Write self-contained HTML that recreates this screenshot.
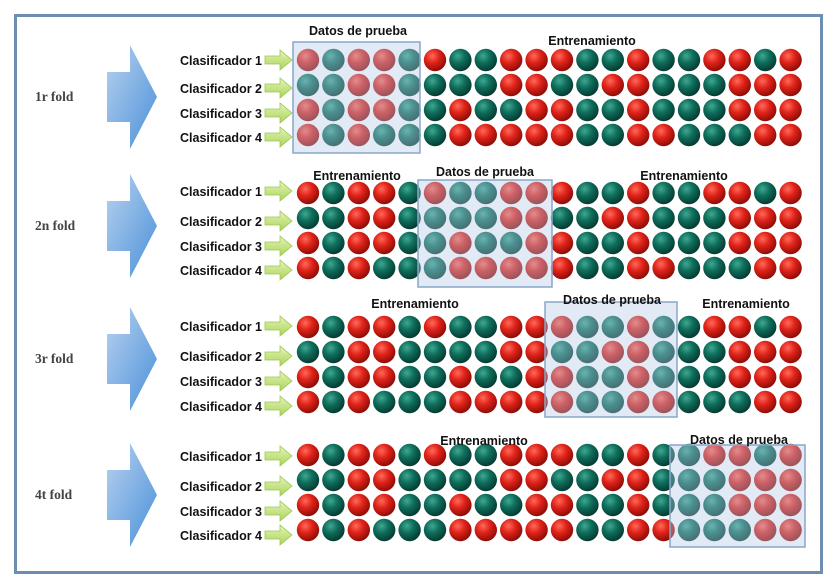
<!DOCTYPE html>
<html><head><meta charset="utf-8"><style>
html,body{margin:0;padding:0;background:#fff;}
svg{display:block;}
text{font-family:"Liberation Sans",sans-serif;}
text.fold{font-family:"Liberation Serif",serif;}
</style></head><body>
<svg id="c" width="839" height="588" viewBox="0 0 839 588" xmlns="http://www.w3.org/2000/svg">
<defs>
<radialGradient id="gr" cx="0.38" cy="0.32" r="0.7"><stop offset="0" stop-color="#ff6a5a"/><stop offset="0.45" stop-color="#e0231a"/><stop offset="1" stop-color="#8c0c06"/></radialGradient>
<radialGradient id="gg" cx="0.38" cy="0.32" r="0.7"><stop offset="0" stop-color="#3fa890"/><stop offset="0.45" stop-color="#0f6e5c"/><stop offset="1" stop-color="#053a30"/></radialGradient>
<linearGradient id="ba" x1="0" y1="0" x2="1" y2="1"><stop offset="0" stop-color="#b8d2ef"/><stop offset="1" stop-color="#4a90d9"/></linearGradient>
<linearGradient id="ga" x1="0" y1="0" x2="0" y2="1"><stop offset="0" stop-color="#e6f5b8"/><stop offset="1" stop-color="#a9d35a"/></linearGradient>
</defs>
<rect x="15.5" y="15.5" width="806" height="557" fill="#fff" stroke="#6d8db2" stroke-width="3"/>
</svg>
<script>
const foldLabels = ["1r fold","2n fold","3r fold","4t fold"];
const rowPatterns = [
 "RGRRGRGGRRRGGRGGRRGR",
 "GGRRGGGGRRGGRRGGGRRR",
 "RGRRGGRGGRRGGRGGGRRR",
 "RGRGGGRRRRRGGRRGGGRR"
];
const testStart = [0,5,10,15];
const rowY = [[60,85,110,135],[193,218,243,268],[327,352,377,402],[455,480,505,530]];
const clfY = [[60,88,113,137],[191,221,246,270],[326,356,381,406],[456,486,511,535]];
const foldY = [97,226,359,495];
const svg = document.getElementById('c');
const NS = "http://www.w3.org/2000/svg";
function el(t, a){const e=document.createElementNS(NS,t);for(const k in a)e.setAttribute(k,a[k]);svg.appendChild(e);return e;}
const xOf = i => 308 + i*25.4;
const boxes = [[293,42,127,111],[418,180,134,107],[545,302,132,115],[670,445,135,102]];
const labels = [
 [[358,31,"Datos de prueba"],[592,41,"Entrenamiento"]],
 [[357,176,"Entrenamiento"],[485,172,"Datos de prueba"],[684,176,"Entrenamiento"]],
 [[415,304,"Entrenamiento"],[612,300,"Datos de prueba"],[746,304,"Entrenamiento"]],
 [[484,441,"Entrenamiento"],[739,440,"Datos de prueba"]]
];
for (let f=0; f<4; f++){
  const t = el('text',{x:35,y:foldY[f]+4,'font-size':13.5,'font-weight':'bold',fill:'#444',class:'fold'});
  t.textContent = foldLabels[f];
  
  
  const cy = foldY[f];
  const a = el('polygon',{points:`107,${cy-25} 130,${cy-25} 130,${cy-52} 157,${cy} 130,${cy+52} 130,${cy+25} 107,${cy+25}`,fill:'url(#ba)'});
  
  
  for (let r=0; r<4; r++){
    const y = clfY[f][r];
    const ct = el('text',{x:262,y:y+5,'font-size':12.5,'font-weight':'bold',fill:'#111','text-anchor':'end'});
    ct.textContent = 'Clasificador ' + (r+1);
    
    
    const ga = el('polygon',{points:`265,${y-4} 280,${y-4} 280,${y-10} 292,${y} 280,${y+10} 280,${y+4} 265,${y+4}`,fill:'url(#ga)',stroke:'#9cc653','stroke-width':0.8});
    
    
    const pat = rowPatterns[r];
    for (let i=0; i<20; i++){
      const b = el('circle',{cx:xOf(i),cy:rowY[f][r],r:11.2,fill:pat[i]==='R'?'url(#gr)':'url(#gg)'});
      
      
    }
  }
  const bx = boxes[f];
  const box = el('rect',{x:bx[0],y:bx[1],width:bx[2],height:bx[3],fill:'rgba(175,200,230,0.38)',stroke:'#8aa6c8','stroke-width':1.5});
  
  
  for (const l of labels[f]){
    const lt = el('text',{x:l[0],y:l[1]+4,'font-size':12.5,'font-weight':'bold',fill:'#111','text-anchor':'middle'});
    lt.textContent = l[2];
    
    
  }
}
</script>
</body></html>
